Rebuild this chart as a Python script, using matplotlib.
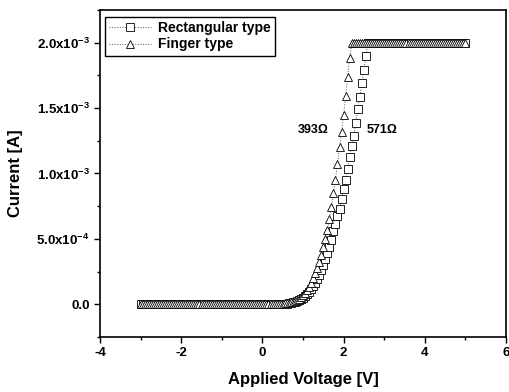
import numpy as np
import matplotlib
matplotlib.use("Agg")
import matplotlib.pyplot as plt
from matplotlib.ticker import MultipleLocator, FixedLocator, FixedFormatter

plt.rcParams['font.family'] = ['Liberation Sans', 'DejaVu Sans']
plt.rcParams['mathtext.fontset'] = 'custom'
plt.rcParams['mathtext.rm'] = 'Liberation Sans:bold'
plt.rcParams['mathtext.bf'] = 'Liberation Sans:bold'
plt.rcParams['axes.unicode_minus'] = False

# Applied voltage sweep (V), -3 V to 5 V in 0.05 V steps
voltage = np.round(np.linspace(-3.0, 5.0, 161), 2)

# Current in mA
rect_mA = [
    0.000, 0.000, 0.000, 0.000, 0.000, 0.000, 0.000, 0.000, 0.000, 0.000,
    0.000, 0.000, 0.000, 0.000, 0.000, 0.000, 0.000, 0.000, 0.000, 0.000,
    0.000, 0.000, 0.000, 0.000, 0.000, 0.000, 0.000, 0.000, 0.000, 0.000,
    0.000, 0.000, 0.000, 0.000, 0.000, 0.000, 0.000, 0.000, 0.000, 0.000,
    0.000, 0.000, 0.000, 0.000, 0.000, 0.000, 0.000, 0.000, 0.000, 0.000,
    0.000, 0.000, 0.000, 0.000, 0.000, 0.000, 0.000, 0.000, 0.000, 0.000,
    0.000, 0.000, 0.001, 0.001, 0.001, 0.002, 0.002, 0.002, 0.003, 0.003,
    0.004, 0.005, 0.006, 0.008, 0.011, 0.014, 0.018, 0.024, 0.031, 0.040,
    0.050, 0.063, 0.078, 0.096, 0.116, 0.139, 0.165, 0.194, 0.226, 0.262,
    0.300, 0.345, 0.390, 0.440, 0.494, 0.560, 0.611, 0.673, 0.731, 0.808,
    0.884, 0.953, 1.037, 1.126, 1.210, 1.290, 1.386, 1.490, 1.585, 1.690,
    1.790, 1.900,
    2.000, 2.000, 2.000, 2.000, 2.000, 2.000, 2.000, 2.000, 2.000, 2.000,
    2.000, 2.000, 2.000, 2.000, 2.000, 2.000, 2.000, 2.000, 2.000, 2.000,
    2.000, 2.000, 2.000, 2.000, 2.000, 2.000, 2.000, 2.000, 2.000, 2.000,
    2.000, 2.000, 2.000, 2.000, 2.000, 2.000, 2.000, 2.000, 2.000, 2.000,
    2.000, 2.000, 2.000, 2.000, 2.000, 2.000, 2.000, 2.000, 2.000,
]

finger_mA = [
    0.000, 0.000, 0.000, 0.000, 0.000, 0.000, 0.000, 0.000, 0.000, 0.000,
    0.000, 0.000, 0.000, 0.000, 0.000, 0.000, 0.000, 0.000, 0.000, 0.000,
    0.000, 0.000, 0.000, 0.000, 0.000, 0.000, 0.000, 0.000, 0.000, 0.000,
    0.000, 0.000, 0.000, 0.000, 0.000, 0.000, 0.000, 0.000, 0.000, 0.000,
    0.000, 0.000, 0.000, 0.000, 0.000, 0.000, 0.000, 0.000, 0.000, 0.000,
    0.000, 0.000, 0.000, 0.000, 0.000, 0.000, 0.000, 0.000, 0.000, 0.000,
    0.000, 0.000, 0.001, 0.001, 0.002, 0.002, 0.003, 0.003, 0.004, 0.005,
    0.006, 0.007, 0.009, 0.012, 0.015, 0.020, 0.026, 0.034, 0.044, 0.056,
    0.071, 0.089, 0.111, 0.136, 0.165, 0.198, 0.236, 0.278, 0.325, 0.378,
    0.435, 0.500, 0.571, 0.655, 0.744, 0.851, 0.953, 1.075, 1.200, 1.320,
    1.450, 1.590, 1.740, 1.880,
    2.000, 2.000, 2.000, 2.000, 2.000, 2.000, 2.000, 2.000, 2.000, 2.000,
    2.000, 2.000, 2.000, 2.000, 2.000, 2.000, 2.000, 2.000, 2.000, 2.000,
    2.000, 2.000, 2.000, 2.000, 2.000, 2.000, 2.000, 2.000, 2.000, 2.000,
    2.000, 2.000, 2.000, 2.000, 2.000, 2.000, 2.000, 2.000, 2.000, 2.000,
    2.000, 2.000, 2.000, 2.000, 2.000, 2.000, 2.000, 2.000, 2.000, 2.000,
    2.000, 2.000, 2.000, 2.000, 2.000, 2.000, 2.000,
]

series_labels = ["Rectangular type", "Finger type"]
y_ticks = [0.0, 0.5e-3, 1.0e-3, 1.5e-3, 2.0e-3]
y_tick_labels = ["0.0", r"5.0x10$^{-4}$", r"1.0x10$^{-3}$", r"1.5x10$^{-3}$", r"2.0x10$^{-3}$"]
x_ticks = [-4, -2, 0, 2, 4, 6]
x_tick_labels = ["-4", "-2", "0", "2", "4", "6"]
annotations = [("393\u03a9", 1.25, 1.33e-3), ("571\u03a9", 2.94, 1.33e-3)]

rect = np.array(rect_mA) * 1e-3
finger = np.array(finger_mA) * 1e-3

fig = plt.figure(figsize=(5.09, 3.92), dpi=100)
ax = fig.add_axes([0.1965, 0.1403, 0.7975, 0.8342])

ax.plot(voltage, rect, linestyle=':', color='0.35', linewidth=0.7,
        marker='s', markersize=5.2, markerfacecolor='white',
        markeredgecolor='black', markeredgewidth=0.6, label=series_labels[0])
ax.plot(voltage, finger, linestyle=':', color='0.35', linewidth=0.7,
        marker='^', markersize=5.6, markerfacecolor='white',
        markeredgecolor='black', markeredgewidth=0.6, label=series_labels[1])

ax.set_xlim(-4, 6)
ax.set_ylim(-0.25e-3, 2.25e-3)
ax.xaxis.set_major_locator(FixedLocator(x_ticks))
ax.xaxis.set_major_formatter(FixedFormatter(x_tick_labels))
ax.xaxis.set_minor_locator(MultipleLocator(1))
ax.yaxis.set_major_locator(FixedLocator(y_ticks))
ax.yaxis.set_major_formatter(FixedFormatter(y_tick_labels))
ax.yaxis.set_minor_locator(MultipleLocator(0.25e-3))

ax.tick_params(which='both', direction='out', top=False, right=False,
               width=1.0, labelsize=9.5)
ax.tick_params(which='major', length=4)
ax.tick_params(which='minor', length=2)
for lab in ax.get_xticklabels() + ax.get_yticklabels():
    lab.set_fontweight('bold')

for s in ax.spines.values():
    s.set_linewidth(1.2)

ax.set_xlabel("Applied Voltage [V]", fontsize=12, fontweight='bold', labelpad=9)
ax.set_ylabel("Current [A]", fontsize=12, fontweight='bold', labelpad=10)

for txt, x, y in annotations:
    ax.text(x, y, txt, fontsize=9, fontweight='bold', ha='center', va='center')

leg = ax.legend(loc='upper left', bbox_to_anchor=(0.012, 0.978),
                prop={'size': 10, 'weight': 'bold'}, frameon=True,
                fancybox=False, edgecolor='black', framealpha=1,
                handlelength=3.0, handletextpad=0.5, borderpad=0.3,
                labelspacing=0.15, borderaxespad=0.0)
leg.get_frame().set_linewidth(1.0)

fig.savefig("out.png", dpi=100)
